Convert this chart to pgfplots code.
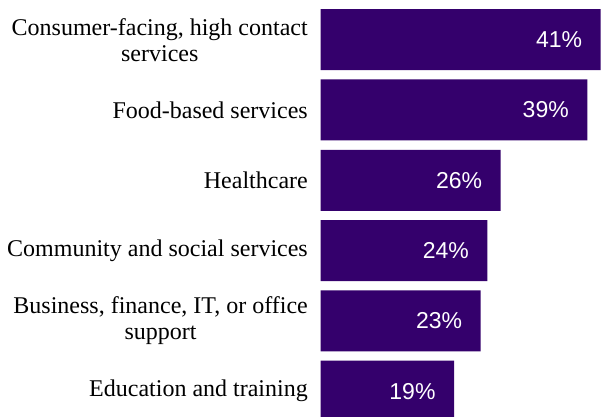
\documentclass[border=0pt]{standalone}
\usepackage{fontspec}
\setmainfont{Liberation Serif}
\newfontfamily\labfont{Liberation Serif}
\newfontfamily\valfont{Liberation Sans}
\usepackage{pgfplots}
\pgfplotsset{compat=1.18}
\definecolor{barpurple}{RGB}{52,0,108}

\begin{document}
\begin{tikzpicture}
\begin{axis}[
    at={(320.7pt,0pt)}, anchor=south west,
    x=6.665pt, y=70.3pt,
    xmin=0, xmax=42.36,
    ymin=-0.565, ymax=5.367,
    y dir=reverse,
    axis line style={draw=none},
    major tick length=0pt,
    xtick=\empty,
    ytick={0,...,5},
    yticklabels={{Consumer-facing, high contact\\services},
                 {Food-based services},
                 {Healthcare},
                 {Community and social services},
                 {Business, finance, IT, or office\\support},
                 {Education and training}},
    yticklabel style={font=\labfont\fontsize{24}{26}\selectfont, align=center,
                      inner sep=0pt, xshift=-12.7pt},
    xbar, bar width=61pt,
    x filter/.expression={x+1},
    point meta=explicit,
    /pgf/number format/assume math mode=true,
    nodes near coords={\pgfmathprintnumber{\pgfplotspointmeta}\%},
    every node near coord/.append style={anchor=east, xshift=-15pt,
        text=white, font=\valfont\fontsize{23}{23}\selectfont},
]
\addplot[fill=barpurple, draw=none] coordinates {
    (41,0) [41]
    (39,1) [39]
    (26,2) [26]
    (24,3) [24]
    (23,4) [23]
    (19,5) [19]
};
\end{axis}
\pgfresetboundingbox
\path[use as bounding box] (0,0) rectangle (603pt,417pt);
\end{tikzpicture}
\end{document}
